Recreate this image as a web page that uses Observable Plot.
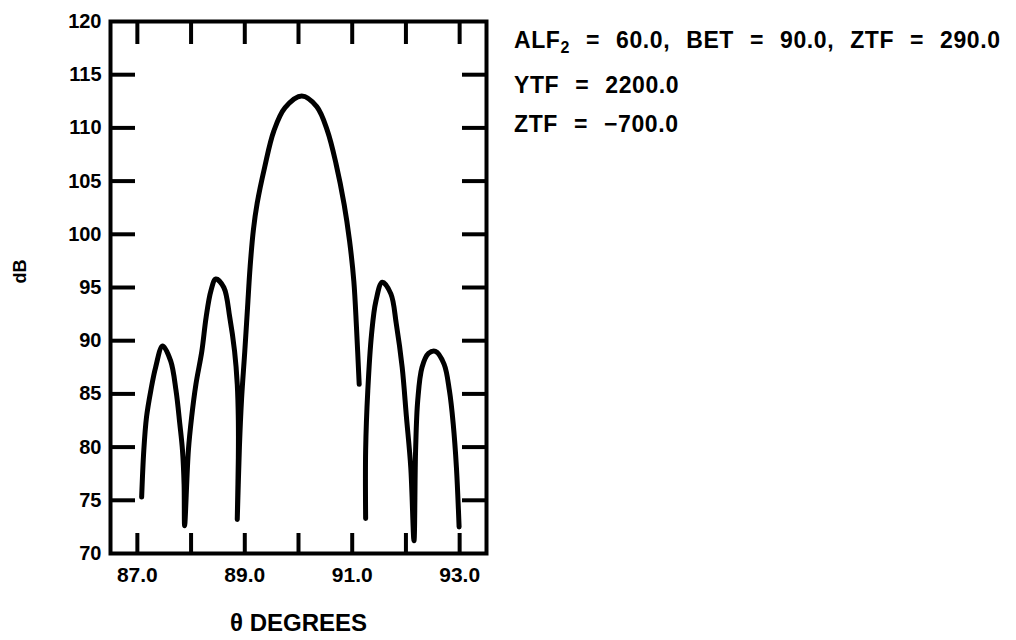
<!DOCTYPE html>
<html><head><meta charset="utf-8">
<script src="https://cdn.jsdelivr.net/npm/d3@7"></script>
<script src="https://cdn.jsdelivr.net/npm/@observablehq/plot@0.6"></script>
<style>
body{margin:0;background:#fff;}
#wrap{position:relative;width:1016px;height:640px;}
#notes{position:absolute;left:0;top:0;font-family:"Liberation Sans",Arial,sans-serif;font-weight:bold;font-size:23px;color:#000;letter-spacing:0.6px;word-spacing:9px;}
#notes div{position:absolute;white-space:nowrap;left:514px;}
#notes sub{font-size:16px;vertical-align:-5px;line-height:0;}
</style></head><body><div id="wrap"><div id="notes"></div></div>
<script>
// Curve data (theta in degrees, level in dB, segment id)
const theta = [
  87.08, 87.12, 87.17, 87.25, 87.34, 87.47, 87.62, 87.72, 87.79, 87.84, 87.87, 87.88,
  87.95, 88.01, 88.09, 88.20, 88.28, 88.37, 88.46, 88.61, 88.72, 88.81, 88.86, 88.88, 88.88, 88.86,
  88.90, 88.94, 89.00, 89.05, 89.10, 89.16, 89.23, 89.37, 89.54, 89.75, 90.06, 90.34, 90.54, 90.70, 90.85, 90.95, 91.03, 91.08, 91.13,
  91.25, 91.25, 91.29, 91.36, 91.44, 91.56, 91.72, 91.82, 91.93, 92.01, 92.09, 92.15,
  92.18, 92.22, 92.30, 92.42, 92.55, 92.71, 92.81, 92.88, 92.94, 92.99
];
const level = [
  75.3, 79.7, 82.8, 85.3, 87.5, 89.5, 88.1, 85.3, 82.2, 79.7, 76.5, 72.6,
  79.7, 82.8, 85.9, 89.0, 92.2, 94.7, 95.8, 95.0, 92.2, 89.0, 85.9, 82.5, 79.0, 73.2,
  80.0, 84.5, 89.0, 93.0, 97.0, 100.4, 102.9, 106.3, 109.7, 111.9, 113.0, 112.0, 109.7, 106.6, 102.8, 99.4, 95.6, 91.2, 85.9,
  73.3, 79.7, 85.3, 90.6, 93.7, 95.5, 94.4, 91.6, 87.5, 82.8, 78.1, 71.2,
  79.7, 84.4, 87.5, 88.8, 89.0, 87.8, 85.3, 82.2, 78.1, 72.5
];
const segment = [
  1,1,1,1,1,1,1,1,1,1,1,1,
  1,1,1,1,1,1,1,1,1,1,1,1,1,1,
  1,1,1,1,1,1,1,1,1,1,1,1,1,1,1,1,1,1,1,
  2,2,2,2,2,2,2,2,2,2,2,2,
  2,2,2,2,2,2,2,2,2,2
];
const xDomain = [86.5, 93.5];
const yDomain = [70, 120];
const xTicks = [87, 88, 89, 90, 91, 92, 93];
const xLabels = [87, 89, 91, 93];
const yTicks = [70, 75, 80, 85, 90, 95, 100, 105, 110, 115, 120];
const yInnerTicks = [75, 80, 85, 90, 95, 100, 105, 110, 115];
const xTitle = "θ DEGREES";
const yTitle = "dB";
const notes = ["ALF<sub>2</sub> = 60.0, BET = 90.0, ZTF = 290.0", "YTF = 2200.0", "ZTF = \u2212700.0"];
const noteTops = [27, 72, 111];

const data = theta.map((t, i) => ({theta: t, dB: level[i], segment: segment[i]}));
const font = '"Liberation Sans", Arial, sans-serif';

const chart = Plot.plot({
  width: 1016,
  height: 640,
  marginLeft: 110,
  marginRight: 530,
  marginTop: 21,
  marginBottom: 87,
  style: {fontFamily: font, fontWeight: "bold", background: "white", color: "black", overflow: "visible"},
  x: {domain: xDomain},
  y: {domain: yDomain},
  marks: [
    Plot.axisX(xTicks, {anchor: "bottom", tickSize: -20, tickFormat: () => "", strokeWidth: 4, label: null}),
    Plot.axisX(xTicks, {anchor: "top", tickSize: -22, tickFormat: () => "", strokeWidth: 4, label: null}),
    Plot.axisX(xLabels, {anchor: "bottom", tickSize: 0, tickPadding: 14, tickFormat: d => d.toFixed(1), fontSize: 21, fontWeight: "bold", label: null}),
    Plot.axisY(yInnerTicks, {anchor: "left", tickSize: -25, tickFormat: () => "", strokeWidth: 4, label: null}),
    Plot.axisY(yInnerTicks, {anchor: "right", tickSize: -25, tickFormat: () => "", strokeWidth: 4, label: null}),
    Plot.axisY(yTicks, {anchor: "left", tickSize: 0, tickPadding: 9, fontSize: 20, fontWeight: "bold", label: null}),
    Plot.frame({stroke: "black", strokeWidth: 4}),
    Plot.text([xTitle], {frameAnchor: "bottom", dy: 77, fontSize: 24, fontWeight: "bold", text: d => d, style: {letterSpacing: "1px"}}),
    Plot.text([yTitle], {frameAnchor: "left", dx: -90, dy: -4, rotate: -90, fontSize: 18, fontWeight: "bold", text: d => d}),
    Plot.line(data, {x: "theta", y: "dB", z: "segment", stroke: "black", strokeWidth: 5, curve: "catmull-rom", strokeLinejoin: "round", strokeLinecap: "round"})
  ]
});
document.getElementById("wrap").prepend(chart);
const notesEl = document.getElementById("notes");
notes.forEach((n, i) => {
  const d = document.createElement("div");
  d.innerHTML = n;
  d.style.top = noteTops[i] + "px";
  notesEl.appendChild(d);
});
</script></body></html>
